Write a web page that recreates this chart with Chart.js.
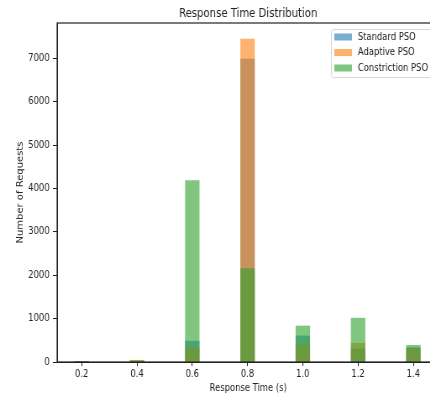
<!DOCTYPE html>
<html>
<head>
<meta charset="utf-8">
<script src="https://cdn.jsdelivr.net/npm/chart.js@4.4.0/dist/chart.umd.min.js"></script>
<style>
  body { margin: 0; overflow: hidden; background: #fff; }
  /* the reference picture is squeezed sideways, so draw wide and squeeze */
  #wrap { width: 524px; height: 396px; transform: scaleX(0.84); transform-origin: 0 0; }
</style>
</head>
<body>
<div id="wrap"><canvas id="chart"></canvas></div>
<script>
// data
const bins = [0.2, 0.4, 0.6, 0.8, 1.0, 1.2, 1.4];
const standardPso = [3, 30, 480, 6980, 600, 300, 330];
const adaptivePso = [3, 40, 310, 7440, 390, 430, 310];
const constrictionPso = [3, 25, 4180, 2150, 830, 1010, 385];
const xTicks = [0.2, 0.4, 0.6, 0.8, 1.0, 1.2, 1.4];
const yTicks = [0, 1000, 2000, 3000, 4000, 5000, 6000, 7000];

const font = "'DejaVu Sans', sans-serif";
const textColor = "#222";

function toPoints(values) {
  return bins.map((b, i) => ({ x: b, y: values[i] }));
}

const seriesColors = [
  "rgba(31, 119, 180, 0.6)",
  "rgba(255, 127, 14, 0.6)",
  "rgba(44, 160, 44, 0.6)",
];

// title, frame and the legend inside the plot
const extras = {
  id: "extras",
  afterDraw(chart) {
    const c = chart.ctx;
    const a = chart.chartArea;
    c.save();
    c.strokeStyle = "#222";
    c.lineWidth = 1.2;
    c.strokeRect(a.left, a.top, a.right - a.left, a.bottom - a.top);

    c.fillStyle = textColor;
    c.font = "12px " + font;
    c.textAlign = "center";
    c.textBaseline = "middle";
    c.fillText("Response Time Distribution", (a.left + a.right) / 2, 14);

    // legend box
    c.fillStyle = "rgba(255,255,255,0.8)";
    c.strokeStyle = "#d6d6d6";
    c.lineWidth = 1;
    c.beginPath();
    c.roundRect(394.5, 29.5, 140, 48, 3);
    c.fill();
    c.stroke();
    c.font = "10px " + font;
    c.textAlign = "left";
    chart.data.datasets.forEach((ds, i) => {
      const y = 37 + i * 15.5;
      c.fillStyle = ds.backgroundColor;
      c.fillRect(398, y - 3.5, 21, 7);
      c.fillStyle = textColor;
      c.fillText(ds.label, 426, y);
    });
    c.restore();
  },
};

new Chart(document.getElementById("chart"), {
  type: "bar",
  data: {
    datasets: [
      { label: "Standard PSO", data: toPoints(standardPso), backgroundColor: seriesColors[0], order: 3 },
      { label: "Adaptive PSO", data: toPoints(adaptivePso), backgroundColor: seriesColors[1], order: 2 },
      { label: "Constriction PSO", data: toPoints(constrictionPso), backgroundColor: seriesColors[2], order: 1 },
    ],
  },
  options: {
    responsive: true,
    maintainAspectRatio: false,
    animation: false,
    layout: { padding: { top: 23, left: 0, right: 1, bottom: 0 } },
    datasets: { bar: { grouped: false, barThickness: 16.5, borderWidth: 0 } },
    plugins: {
      legend: { display: false },
      title: { display: false },
      tooltip: { enabled: false },
    },
    scales: {
      x: {
        type: "linear",
        offset: false,
        min: 0.111,
        max: 1.494,
        afterBuildTicks(scale) { scale.ticks = xTicks.map(v => ({ value: v })); },
        afterFit(scale) { scale.height = 34; },
        ticks: {
          color: textColor,
          font: { size: 10, family: font },
          padding: 2,
          maxRotation: 0,
          callback: v => v.toFixed(1),
        },
        grid: { drawOnChartArea: false, offset: false, tickLength: 4, color: "#222" },
        border: { color: "#222" },
        title: {
          display: true,
          text: "Response Time (s)",
          color: textColor,
          font: { size: 10, family: font },
          padding: { top: 0, bottom: 2 },
        },
      },
      y: {
        min: 0,
        max: 7812,
        afterBuildTicks(scale) { scale.ticks = yTicks.map(v => ({ value: v })); },
        afterFit(scale) { scale.width = 68; },
        ticks: {
          color: textColor,
          font: { size: 10, family: font },
          padding: 4,
          callback: v => String(v),
        },
        grid: { drawOnChartArea: false, tickLength: 5, color: "#222" },
        border: { color: "#222" },
        title: {
          display: true,
          text: "Number of Requests",
          color: textColor,
          font: { size: 10, family: font },
          padding: { top: 18, bottom: 0 },
        },
      },
    },
  },
  plugins: [extras],
});
</script>
</body>
</html>
